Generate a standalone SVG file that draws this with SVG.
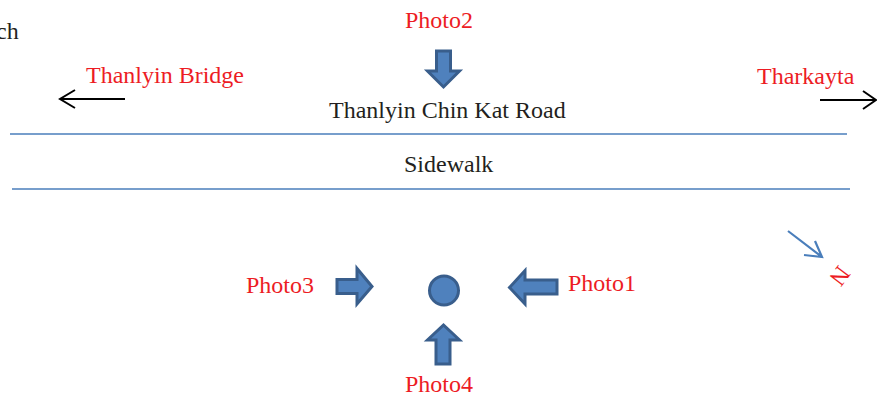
<svg xmlns="http://www.w3.org/2000/svg" width="877" height="398" viewBox="0 0 877 398">
<style>
.t{font-family:"Liberation Serif","Times New Roman",serif;font-size:24px}
.k{fill:#231f20}
.r{fill:#ed1c24}
.blk{fill:#4f81bd;stroke:#395e8c;stroke-width:3;stroke-linejoin:miter}
.road{stroke:#4a7ebb;stroke-width:1.5;fill:none}
.arr{stroke:#000;stroke-width:2;fill:none}
</style>
<rect width="877" height="398" fill="#fff"/>
<g id="labels">
<text class="t k" x="-4" y="39">ch</text>
<text class="t r" x="86" y="83">Thanlyin Bridge</text>
<text class="t r" x="757" y="84">Tharkayta</text>
<text class="t r" x="405" y="28">Photo2</text>
<text class="t k" x="329" y="118">Thanlyin Chin Kat Road</text>
<text class="t k" x="404" y="172">Sidewalk</text>
<text class="t r" x="246" y="293">Photo3</text>
<text class="t r" x="568" y="291">Photo1</text>
<text class="t r" x="405" y="392">Photo4</text>
<text class="t r" transform="translate(840 276) rotate(127)" text-anchor="middle" dy="8">N</text>
</g>
<g id="connectors">
<line class="road" x1="10" y1="134" x2="847" y2="134"/>
<line class="road" x1="12" y1="189" x2="850" y2="189"/>
<path class="arr" d="M125 99H60M75 90L60 99L75 108"/>
<path class="arr" d="M820 100H876M863 91L876 100L863 109"/>
<path d="M788 231L822 257M815 241L822 257L804 255" stroke="#4a7ebb" stroke-width="2.2" fill="none"/>
</g>
<g id="photo2-arrow"><path class="blk" d="M436.5 51H450.5V71H459.5L443.5 87L427.5 71H436.5Z"/></g>
<g id="photo3-arrow"><path class="blk" d="M337 279.5H357V268.5L372 286.5L357 304V293.5H337Z"/></g>
<g id="photo1-arrow"><path class="blk" d="M557 280H525V270.5L509.5 287.5L525 304V294H557Z"/></g>
<g id="photo4-arrow"><path class="blk" d="M436 364V340H427.5L443.5 325L459.5 340H450V364Z"/></g>
<g id="site"><circle cx="444" cy="290.5" r="14.5" fill="#4f81bd" stroke="#395e8c" stroke-width="3"/></g>
</svg>
